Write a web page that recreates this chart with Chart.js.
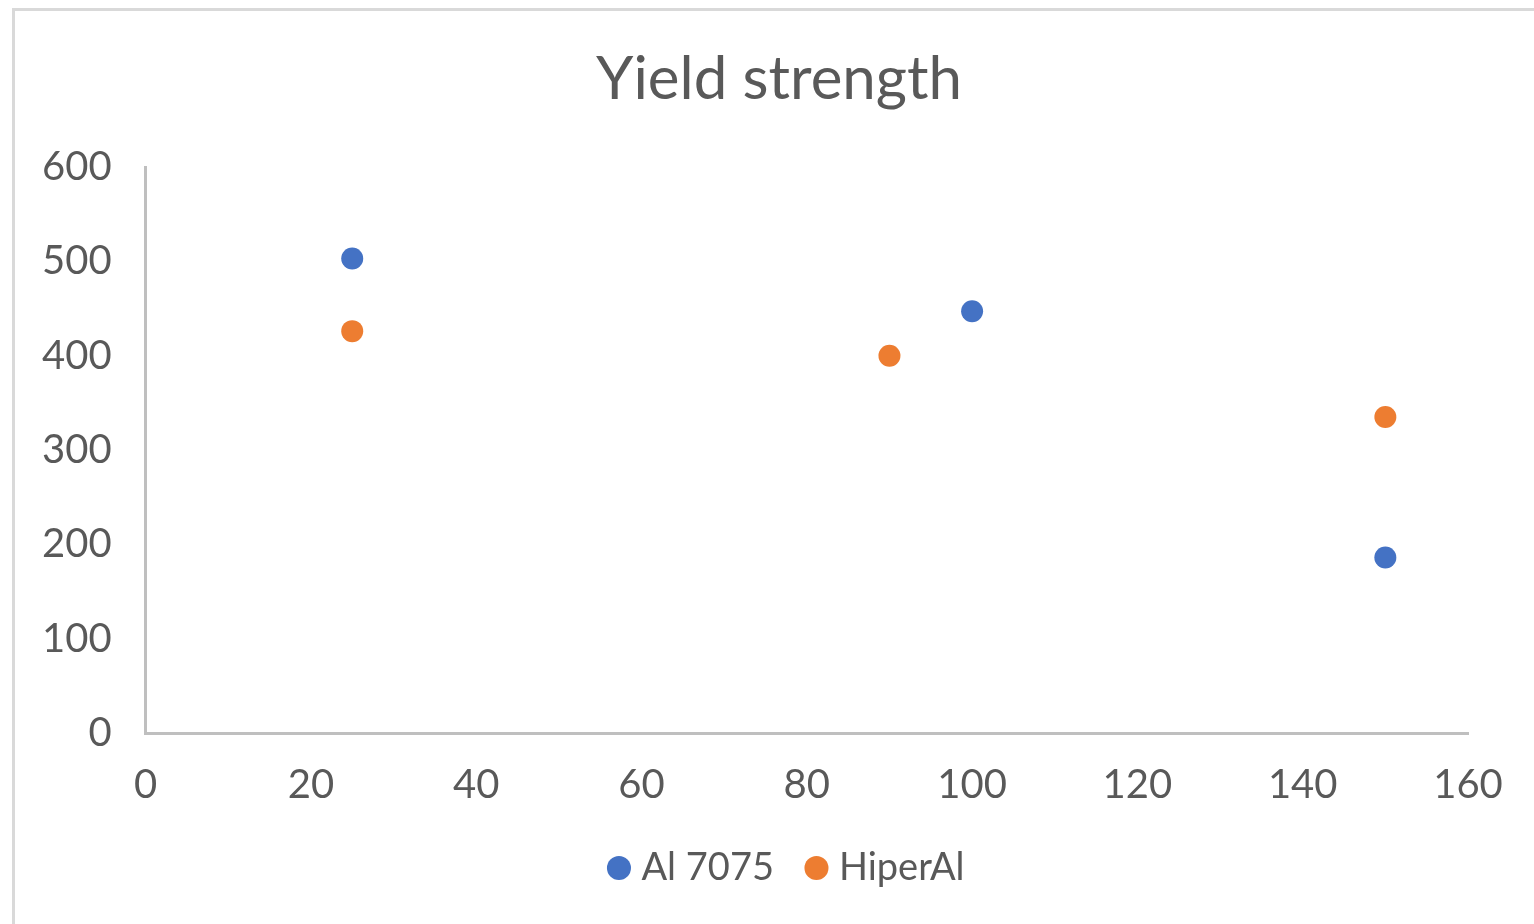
<!DOCTYPE html>
<html>
<head>
<meta charset="utf-8">
<script src="https://cdn.jsdelivr.net/npm/chart.js@4"></script>
<style>
  html, body { margin: 0; padding: 0; background: #fff; overflow: hidden; }
  #wrap { position: absolute; left: 0; top: 0; width: 1564px; height: 924px; }
</style>
</head>
<body>
<div id="wrap"><canvas id="chart"></canvas></div>
<script>
// Data
const seriesNames = ['Al 7075', 'HiperAl'];
const al7075X = [25, 100, 150];
const al7075Y = [503, 447, 186];
const hiperAlX = [25, 90, 150];
const hiperAlY = [426, 400, 335];

const xTicks = [0, 20, 40, 60, 80, 100, 120, 140, 160];
const yTicks = [0, 100, 200, 300, 400, 500, 600];

const textColor = '#595959';
const axisColor = '#bfbfbf';
const legendPad = 39;
const legendFont = 38;

// Outer frame of the chart object (only left and top edges show)
const framePlugin = {
    id: 'frame',
    beforeDraw(chart) {
        const ctx = chart.ctx;
        ctx.save();
        ctx.fillStyle = '#ffffff';
        ctx.fillRect(0, 0, chart.width, chart.height);
        ctx.strokeStyle = '#d9d9d9';
        ctx.lineWidth = 3;
        ctx.beginPath();
        ctx.moveTo(13.5, chart.height);
        ctx.lineTo(13.5, 9.5);
        ctx.lineTo(chart.width, 9.5);
        ctx.stroke();
        ctx.restore();
    }
};

// Excel centres title and legend on the whole chart object, not the plot box
const centerPlugin = {
    id: 'centerShift',
    afterLayout(chart) {
        const t = chart.titleBlock;
        if (t) { t.left += 41; t.right += 41; }
        const l = chart.legend;
        if (l) {
            l.left += 52; l.right += 52;
            const h = l.bottom - l.top;
            l.top = 868 - legendPad - legendFont / 2;
            l.bottom = l.top + h;
        }
    }
};

function toPoints(xs, ys) {
    return xs.map((x, i) => ({ x: x, y: ys[i] }));
}

const ctx = document.getElementById('chart').getContext('2d');
new Chart(ctx, {
    type: 'scatter',
    data: {
        datasets: [
            {
                label: seriesNames[0],
                data: toPoints(al7075X, al7075Y),
                backgroundColor: '#4472c4',
                borderColor: '#4472c4',
                pointRadius: 11,
                pointBorderWidth: 0
            },
            {
                label: seriesNames[1],
                data: toPoints(hiperAlX, hiperAlY),
                backgroundColor: '#ed7d31',
                borderColor: '#ed7d31',
                pointRadius: 11,
                pointBorderWidth: 0
            }
        ]
    },
    options: {
        responsive: true,
        maintainAspectRatio: false,
        animation: false,
        layout: {
            padding: { left: 8, right: 96, top: 28, bottom: 0 }
        },
        scales: {
            x: {
                type: 'linear',
                min: xTicks[0],
                max: xTicks[xTicks.length - 1],
                afterBuildTicks: (axis) => { axis.ticks = xTicks.map(v => ({ value: v })); },
                ticks: {
                    color: textColor,
                    font: { family: 'Lato', size: 40 },
                    padding: 28,
                    maxRotation: 0
                },
                grid: { display: false, drawTicks: false },
                border: { color: axisColor, width: 3 }
            },
            y: {
                type: 'linear',
                min: yTicks[0],
                max: yTicks[yTicks.length - 1],
                afterBuildTicks: (axis) => { axis.ticks = yTicks.map(v => ({ value: v })); },
                ticks: {
                    color: textColor,
                    font: { family: 'Lato', size: 40 },
                    padding: 34
                },
                grid: { display: false, drawTicks: false },
                border: { color: axisColor, width: 3 }
            }
        },
        plugins: {
            title: {
                display: true,
                text: 'Yield strength',
                color: textColor,
                font: { family: 'Lato', size: 60, weight: 'normal' },
                padding: { top: 16, bottom: 51 }
            },
            legend: {
                display: true,
                position: 'bottom',
                labels: {
                    color: textColor,
                    font: { family: 'Lato', size: legendFont },
                    usePointStyle: true,
                    pointStyle: 'circle',
                    boxWidth: 7,
                    boxHeight: 17,
                    padding: legendPad
                }
            },
            tooltip: { enabled: false }
        }
    },
    plugins: [framePlugin, centerPlugin]
});
</script>
</body>
</html>
